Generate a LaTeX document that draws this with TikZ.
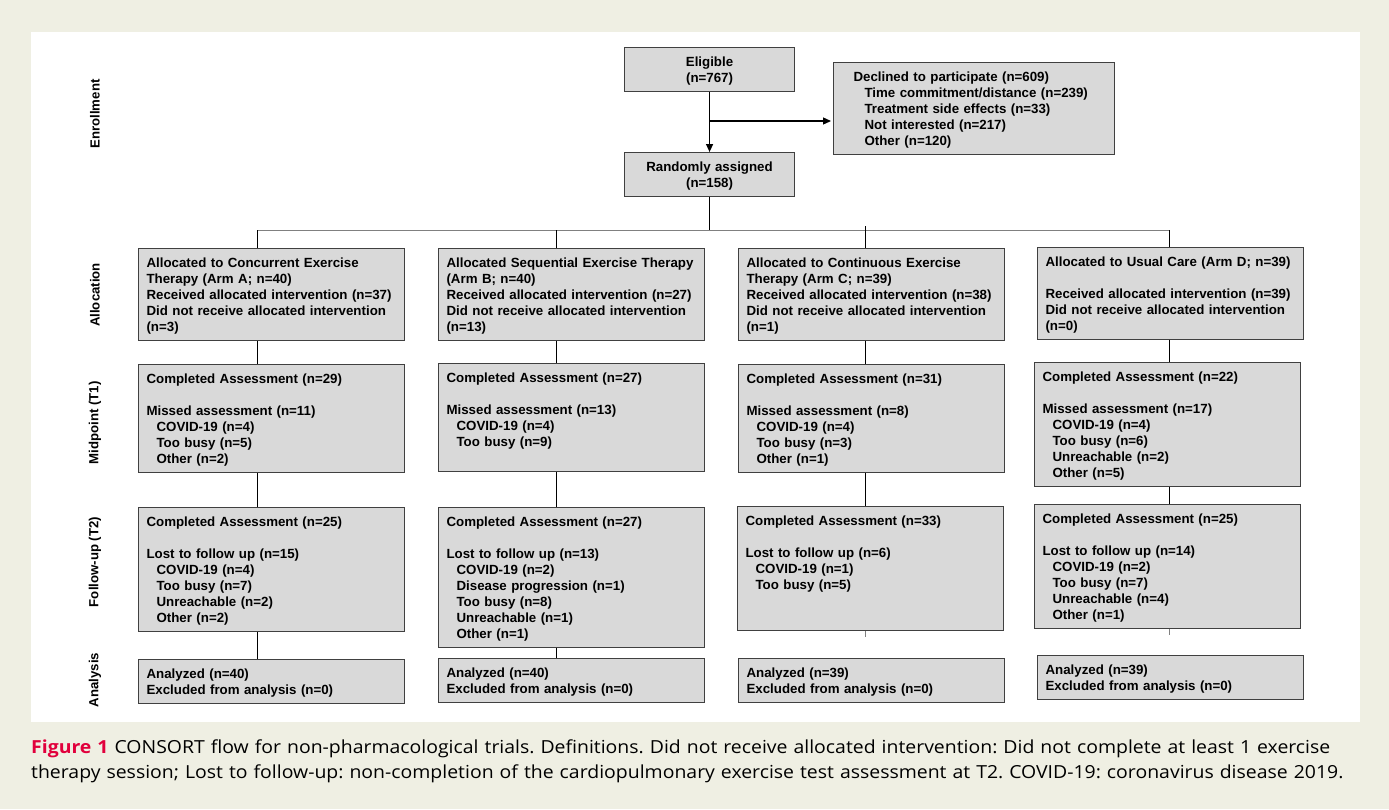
\documentclass[tikz,border=0pt]{standalone}
\usepackage{fontspec}
\usepackage{xcolor}
\usepackage{tikz}
\usetikzlibrary{positioning, arrows.meta, calc}
\setmainfont{Liberation Sans}
\newfontfamily\capfont[FakeStretch=1.08]{Open Sans}
\definecolor{pagebg}{RGB}{239,239,227}
\definecolor{boxfill}{RGB}{217,217,217}
\definecolor{boxline}{RGB}{64,64,64}
\definecolor{figred}{RGB}{225,0,60}
\newcommand{\indnt}{\hspace*{10pt}}
\frenchspacing

\begin{document}
\begin{tikzpicture}[x=1pt, y=1pt,
          flowbox/.style={rectangle, draw=boxline, fill=boxfill, line width=1.1pt,
            anchor=north west, align=left, text width=250pt, inner xsep=8pt,
            inner ysep=6pt, text height=13pt, font=\bfseries\fontsize{13.3}{16}\selectfont},
          midbox/.style={flowbox, align=center, text width=154pt},
          phase/.style={rotate=90, font=\bfseries\fontsize{13.2}{15}\selectfont},
          link/.style={line width=0.8pt},
          arrow/.style={line width=1.3pt, -{Triangle[length=8pt, width=7pt]}}]
          \fill[pagebg] (0,0) rectangle (1389,-809);
          \fill[white] (31,-32) rectangle (1360,-722);

          \node[phase] (enr) at (95,-114) {Enrollment};
          \node[phase] (allocl) at (95,-295) {Allocation};
          \node[phase] (midl) at (95,-423) {Midpoint (T1)};
          \node[phase] (ful) at (95,-562) {Follow-up (T2)};
          \node[phase] (anl) at (95,-680) {Analysis};

          \node[midbox] (elig) at (624,-47) {Eligible\\(n=767)};
          \node[midbox] (rand) at (624,-152) {Randomly assigned\\(n=158)};
          \node[flowbox, text width=241pt, inner xsep=20pt] (decl) at (833,-62)
            {Declined to participate (n=609)\\
             \hspace*{11pt}Time commitment/distance (n=239)\\
             \hspace*{11pt}Treatment side effects (n=33)\\
             \hspace*{11pt}Not interested (n=217)\\
             \hspace*{11pt}Other (n=120)};

          \node[flowbox] (allocA) at (138,-248) {Allocated to Concurrent Exercise\\Therapy (Arm A; n=40)\\Received allocated intervention (n=37)\\Did not receive allocated intervention\\(n=3)};
          \node[flowbox] (allocB) at (438,-248) {Allocated Sequential Exercise Therapy\\(Arm B; n=40)\\Received allocated intervention (n=27)\\Did not receive allocated intervention\\(n=13)};
          \node[flowbox] (allocC) at (738,-248) {Allocated to Continuous Exercise\\Therapy (Arm C; n=39)\\Received allocated intervention (n=38)\\Did not receive allocated intervention\\(n=1)};
          \node[flowbox] (allocD) at (1037,-247) {Allocated to Usual Care (Arm D; n=39)\\[16pt]Received allocated intervention (n=39)\\Did not receive allocated intervention\\(n=0)};

          \node[flowbox] (midA) at (138,-364) {Completed Assessment (n=29)\\[16pt]Missed assessment (n=11)\\\indnt COVID-19 (n=4)\\\indnt Too busy (n=5)\\\indnt Other (n=2)};
          \node[flowbox, text depth=83pt] (midB) at (438,-363) {Completed Assessment (n=27)\\[16pt]Missed assessment (n=13)\\\indnt COVID-19 (n=4)\\\indnt Too busy (n=9)};
          \node[flowbox] (midC) at (738,-364) {Completed Assessment (n=31)\\[16pt]Missed assessment (n=8)\\\indnt COVID-19 (n=4)\\\indnt Too busy (n=3)\\\indnt Other (n=1)};
          \node[flowbox] (midD) at (1034,-362) {Completed Assessment (n=22)\\[16pt]Missed assessment (n=17)\\\indnt COVID-19 (n=4)\\\indnt Too busy (n=6)\\\indnt Unreachable (n=2)\\\indnt Other (n=5)};

          \node[flowbox] (fuA) at (138,-507) {Completed Assessment (n=25)\\[16pt]Lost to follow up (n=15)\\\indnt COVID-19 (n=4)\\\indnt Too busy (n=7)\\\indnt Unreachable (n=2)\\\indnt Other (n=2)};
          \node[flowbox] (fuB) at (438,-507) {Completed Assessment (n=27)\\[16pt]Lost to follow up (n=13)\\\indnt COVID-19 (n=2)\\\indnt Disease progression (n=1)\\\indnt Too busy (n=8)\\\indnt Unreachable (n=1)\\\indnt Other (n=1)};
          \node[flowbox, text depth=99pt] (fuC) at (737,-506) {Completed Assessment (n=33)\\[16pt]Lost to follow up (n=6)\\\indnt COVID-19 (n=1)\\\indnt Too busy (n=5)};
          \node[flowbox] (fuD) at (1034,-504) {Completed Assessment (n=25)\\[16pt]Lost to follow up (n=14)\\\indnt COVID-19 (n=2)\\\indnt Too busy (n=7)\\\indnt Unreachable (n=4)\\\indnt Other (n=1)};

          \node[flowbox] (anA) at (138,-659) {Analyzed (n=40)\\Excluded from analysis (n=0)};
          \node[flowbox] (anB) at (438,-658) {Analyzed (n=40)\\Excluded from analysis (n=0)};
          \node[flowbox] (anC) at (738,-658) {Analyzed (n=39)\\Excluded from analysis (n=0)};
          \node[flowbox] (anD) at (1037,-655) {Analyzed (n=39)\\Excluded from analysis (n=0)};

          \coordinate (split) at (709,-121);
          \coordinate (colA) at (257,-230);
          \coordinate (colB) at (556,-230);
          \coordinate (colC) at (865,-230);
          \coordinate (colD) at (1169,-230);

          \draw[arrow] (elig) -- (rand);
          \draw[arrow, shorten >=2pt] (split) -- (split -| decl.west);
          \draw[link] (rand) -- (rand |- colA);
          \draw[gray, line width=0.9pt] (colA) -- (colD);
          \foreach \arm in {A,B,C,D} {
            \draw[link] (col\arm) -- (col\arm |- alloc\arm.north);
            \draw[link] (col\arm |- alloc\arm.south) -- (col\arm |- mid\arm.north);
            \draw[link] (col\arm |- mid\arm.south) -- (col\arm |- fu\arm.north);
          }
          \draw[link] (colC) -- ++(0,4);
          \foreach \arm in {A,B}
            \draw[link] (col\arm |- fu\arm.south) -- (col\arm |- an\arm.north);
          \foreach \arm in {C,D}
            \draw[gray, line width=0.9pt] (col\arm |- fu\arm.south) -- ++(0,-6);

          \node[anchor=base west, align=left, text width=1340pt, inner sep=0pt,
            font=\capfont\fontsize{18}{25}\selectfont] (cap) at (31,-753)
            {\textcolor{figred}{\bfseries Figure 1} CONSORT flow for non-pharmacological trials. Definitions. Did not receive allocated intervention: Did not complete at least 1 exercise\\
             therapy session; Lost to follow-up: non-completion of the cardiopulmonary exercise test assessment at T2. COVID-19: coronavirus disease 2019.};
        \end{tikzpicture}
\end{document}
